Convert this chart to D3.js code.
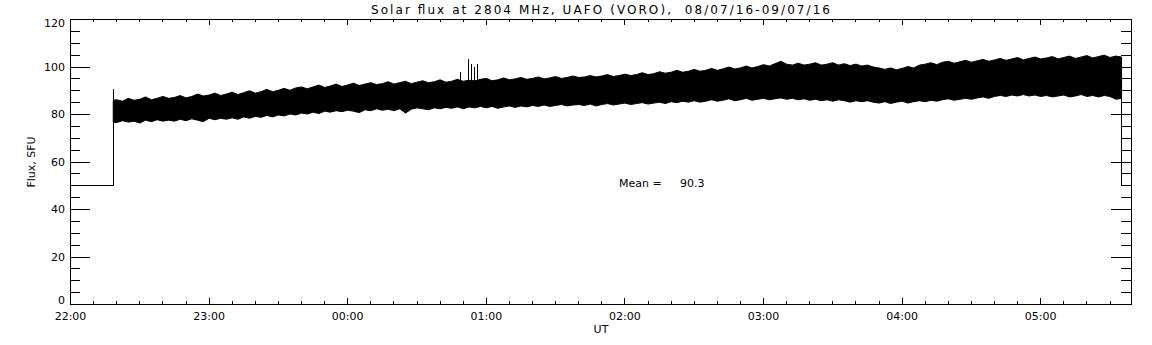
<!DOCTYPE html>
<title>Solar flux 2804 MHz</title>
<meta charset="utf-8">
<style>
  body { margin: 0; background: #fff; }
  text { font-family: "DejaVu Sans", sans-serif; fill: #000; }
  .tick line, .domain { stroke: #000; shape-rendering: crispEdges; }
</style>
<body>
<script src="https://d3js.org/d3.v7.min.js"></script>
<script>
  // times are minutes after 22:00 UT
  var xEndMin = 459.3;

  // receiver off (value 50) before and after the run
  var leadTimes = [0, 18.5], leadValues = [50, 50];
  var tailTimes = [455, 459.3], tailValues = [50, 50];
  var startSpike = 90.8;

  // envelope of the noisy record, every 2.5 minutes from 22:20
  var envTimes = [18.5].concat(d3.range(20, 455.1, 2.5));
  var envTop = [86.0,
    86.2, 85.6, 86.8, 86.0, 86.4, 87.4, 86.2, 86.8, 87.6, 86.8,
    87.2, 88.0, 87.0, 87.6, 88.6, 87.8, 88.2, 89.0, 88.0, 88.6,
    89.4, 88.4, 89.2, 90.0, 89.0, 89.6, 90.6, 89.6, 90.2, 91.0,
    90.2, 91.2, 91.6, 90.8, 91.6, 92.4, 91.4, 92.0, 92.8, 91.8,
    92.4, 93.2, 92.2, 92.8, 93.4, 92.6, 93.0, 93.8, 92.8, 93.4,
    94.0, 93.0, 93.6, 94.2, 93.4, 93.8, 94.6, 93.6, 94.0, 94.8,
    94.0, 94.4, 94.2, 94.8, 95.2, 94.2, 94.6, 95.4, 94.6, 95.0,
    95.6, 94.8, 95.2, 95.8, 95.0, 95.4, 96.0, 95.2, 95.6, 96.2,
    95.6, 95.8, 96.4, 95.8, 96.2, 96.8, 96.0, 96.4, 97.0, 96.4,
    96.8, 97.6, 96.8, 97.2, 98.0, 97.4, 97.8, 98.6, 97.8, 98.2,
    99.0, 98.2, 98.6, 99.4, 98.6, 99.2, 100.0, 99.2, 99.6, 100.4,
    99.6, 100.2, 101.0, 100.4, 101.4, 102.4, 101.2, 100.8, 101.6, 100.8,
    101.2, 101.8, 100.8, 101.2, 101.8, 100.8, 101.4, 100.6, 101.2, 100.4,
    100.8, 100.0, 99.6, 99.0, 99.6, 98.8, 99.4, 100.2, 99.6, 100.8,
    101.2, 101.8, 101.0, 102.0, 102.4, 101.6, 102.2, 102.8, 102.0, 102.6,
    103.2, 102.4, 103.0, 103.6, 102.8, 103.4, 104.0, 103.0, 103.6, 104.2,
    103.4, 103.8, 104.4, 103.4, 104.0, 104.6, 103.6, 104.2, 104.8, 103.8,
    104.4, 105.0, 104.0, 104.6, 104.2];
  var envBottom = [76.6,
    76.6, 77.4, 76.8, 77.2, 76.4, 77.6, 77.0, 77.8, 77.2, 77.6,
    77.2, 78.0, 77.4, 78.2, 77.6, 77.0, 78.4, 77.8, 78.4, 78.0,
    78.6, 78.0, 79.0, 78.4, 79.2, 78.8, 79.6, 79.0, 79.8, 79.4,
    80.2, 79.8, 80.6, 80.2, 81.0, 80.4, 81.4, 81.0, 81.6, 81.2,
    81.8, 81.4, 80.8, 82.0, 81.6, 82.4, 81.8, 82.2, 81.6, 82.4,
    80.6, 82.2, 82.8, 82.4, 82.0, 82.8, 82.4, 83.0, 82.6, 83.2,
    82.4, 83.2, 82.8, 83.4, 82.8, 83.4, 82.6, 83.2, 83.6, 83.0,
    83.6, 83.2, 83.8, 83.4, 84.0, 83.4, 83.8, 84.2, 83.6, 84.0,
    84.2, 83.8, 84.4, 83.6, 84.2, 84.6, 84.0, 84.4, 84.8, 84.2,
    84.6, 85.0, 84.4, 84.8, 85.2, 84.6, 85.4, 85.0, 85.6, 85.2,
    85.8, 85.2, 85.6, 86.2, 85.6, 86.0, 86.6, 85.8, 86.2, 86.8,
    86.0, 86.4, 86.8, 86.2, 86.6, 87.0, 86.4, 86.8, 86.2, 86.6,
    86.0, 86.4, 85.8, 86.2, 85.6, 86.2, 85.8, 85.2, 85.8, 85.4,
    85.8, 85.2, 84.8, 85.4, 84.6, 85.2, 85.6, 84.8, 85.4, 85.8,
    85.4, 86.0, 85.6, 86.2, 86.6, 86.0, 86.4, 86.8, 86.4, 87.0,
    87.4, 86.8, 87.6, 88.0, 87.6, 88.2, 87.8, 88.4, 87.8, 88.2,
    87.6, 88.0, 87.4, 87.8, 88.2, 87.4, 87.8, 88.4, 87.6, 88.0,
    87.4, 88.0, 87.6, 86.4, 86.8];

  // isolated bursts near 00:50
  var spikeTimes = [168.8, 172.4, 173.7, 175.0, 176.0];
  var spikeValues = [98.1, 103.4, 101.3, 100.2, 101.3];

  var yMajor = [0, 20, 40, 60, 80, 100, 120];
  var xMajor = [0, 60, 120, 180, 240, 300, 360, 420];
  var xLabels = ["22:00", "23:00", "00:00", "01:00", "02:00", "03:00", "04:00", "05:00"];
  var meanValue = "90.3";

  var pLeft = 70, pRight = 1131, pTop = 19, pBottom = 304;

  var x = d3.scaleLinear().domain([0, xEndMin]).range([pLeft, pRight]);
  var y = d3.scaleLinear().domain([0, 120]).range([pBottom, pTop]);

  var svg = d3.select("body").append("svg")
      .attr("width", 1152)
      .attr("height", 345);

  // frame
  svg.append("rect")
      .attr("x", pLeft + 0.5).attr("y", pTop + 0.5)
      .attr("width", pRight - pLeft).attr("height", pBottom - pTop)
      .attr("fill", "none").attr("stroke", "#000")
      .attr("shape-rendering", "crispEdges");

  // ticks (inward, on all four sides)
  var xMinor = d3.range(0, xEndMin, 10);
  var yMinor = d3.range(0, 121, 5);

  function ticks(axis, vals, size, tx, ty) {
    svg.append("g")
        .attr("transform", "translate(" + tx + "," + ty + ")")
        .call(axis.tickValues(vals).tickSizeInner(size).tickSizeOuter(0).tickFormat(""))
        .call(function(g) { g.select(".domain").remove(); });
  }
  ticks(d3.axisBottom(x), xMinor, -3, 0, pBottom);
  ticks(d3.axisBottom(x), xMajor, -6, 0, pBottom);
  ticks(d3.axisTop(x), xMinor, -3, 0, pTop);
  ticks(d3.axisTop(x), xMajor, -6, 0, pTop);
  ticks(d3.axisLeft(y), yMinor, -10, pLeft, 0);
  ticks(d3.axisLeft(y), yMajor, -20, pLeft, 0);
  ticks(d3.axisRight(y), yMinor, -10, pRight, 0);
  ticks(d3.axisRight(y), yMajor, -20, pRight, 0);

  // tick labels
  svg.append("g").selectAll("text")
      .data(yMajor)
      .enter().append("text")
      .attr("x", 65)
      .attr("y", function(d) { return Math.min(Math.max(y(d), pTop + 4), pBottom - 4) + 4; })
      .attr("text-anchor", "end")
      .attr("font-size", 11)
      .text(function(d) { return d; });

  svg.append("g").selectAll("text")
      .data(xMajor)
      .enter().append("text")
      .attr("x", function(d) { return x(d) + 0.5; })
      .attr("y", 320)
      .attr("text-anchor", "middle")
      .attr("font-size", 11)
      .text(function(d, i) { return xLabels[i]; });

  // titles
  svg.append("text")
      .attr("x", (pLeft + pRight) / 2).attr("y", 14)
      .attr("text-anchor", "middle")
      .attr("font-size", 12)
      .attr("textLength", 459).attr("lengthAdjust", "spacing")
      .style("white-space", "pre")
      .text("Solar flux at 2804 MHz, UAFO (VORO),  08/07/16-09/07/16");

  svg.append("text")
      .attr("x", 601).attr("y", 333)
      .attr("text-anchor", "middle")
      .attr("font-size", 11)
      .text("UT");

  svg.append("text")
      .attr("transform", "translate(35,162) rotate(-90)")
      .attr("text-anchor", "middle")
      .attr("font-size", 11)
      .text("Flux, SFU");

  svg.append("text")
      .attr("x", 619).attr("y", 187)
      .attr("font-size", 11)
      .text("Mean =");
  svg.append("text")
      .attr("x", 680).attr("y", 187)
      .attr("font-size", 11)
      .text(meanValue);

  // data
  var plot = svg.append("g").attr("transform", "translate(0.5,0.5)");

  var env = envTimes.map(function(t, i) { return {t: t, hi: envTop[i], lo: envBottom[i]}; });
  plot.append("path")
      .datum(env)
      .attr("fill", "#000")
      .attr("stroke", "#000")
      .attr("stroke-width", 1)
      .attr("d", d3.area()
          .x(function(d) { return x(d.t); })
          .y0(function(d) { return y(d.lo); })
          .y1(function(d) { return y(d.hi); }));

  var line = d3.line()
      .x(function(d) { return x(d[0]); })
      .y(function(d) { return y(d[1]); });

  plot.append("path")
      .datum([[leadTimes[0], leadValues[0]], [leadTimes[1], leadValues[1]],
              [leadTimes[1], startSpike], [envTimes[0], envBottom[0]]])
      .attr("fill", "none").attr("stroke", "#000")
      .attr("shape-rendering", "crispEdges")
      .attr("d", line);

  var last = envTimes.length - 1;
  plot.append("path")
      .datum([[envTimes[last], envTop[last]], [tailTimes[0], tailValues[0]], [tailTimes[1], tailValues[1]]])
      .attr("fill", "none").attr("stroke", "#000")
      .attr("shape-rendering", "crispEdges")
      .attr("d", line);

  plot.selectAll(".spike")
      .data(spikeTimes)
      .enter().append("line")
      .attr("class", "spike")
      .attr("x1", function(d) { return Math.round(x(d)); })
      .attr("x2", function(d) { return Math.round(x(d)); })
      .attr("y1", y(94))
      .attr("y2", function(d, i) { return y(spikeValues[i]); })
      .attr("stroke", "#000")
      .attr("shape-rendering", "crispEdges");
</script>
</body>
